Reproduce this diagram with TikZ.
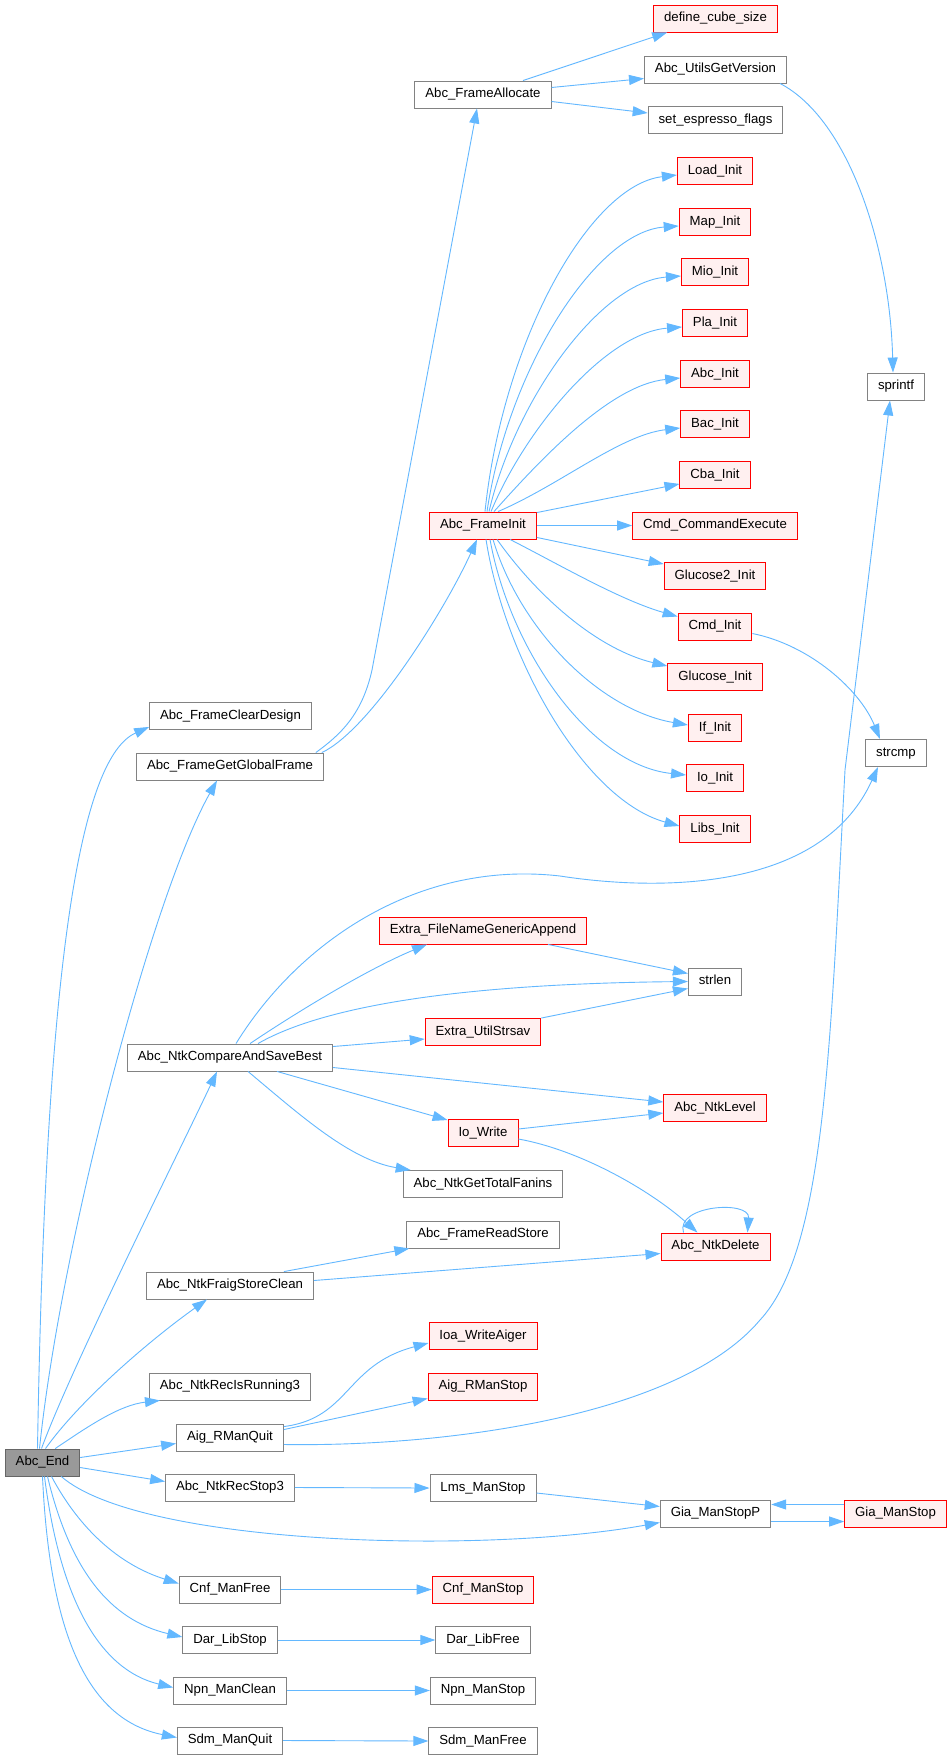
\documentclass[tikz,border=0pt]{standalone}
\usepackage{fontspec}
\setmainfont{Liberation Sans}
\usetikzlibrary{arrows.meta,calc}
\definecolor{edgeblue}{HTML}{63B8FF}
\definecolor{boxgray}{HTML}{828282}
\definecolor{rootline}{HTML}{666666}
\definecolor{rootfill}{HTML}{999999}
\definecolor{redfill}{HTML}{FFF0F0}

\begin{document}
\begin{tikzpicture}[x=1pt, y=-1pt,
    fn/.style={draw=boxgray, fill=white, line width=0.9pt, rectangle,
        minimum height=27pt, inner xsep=10.5pt, inner ysep=0pt,
        text height=9.6pt, text depth=2.8pt, font=\fontsize{13.2}{15}\selectfont},
    fnred/.style={fn, draw=red, fill=redfill},
    fnroot/.style={fn, draw=rootline, fill=rootfill},
    call/.style={draw=edgeblue, line width=0.9pt, -{Triangle[length=15pt,width=10pt]}}]
    \path[use as bounding box, fill=white] (0,0) rectangle (951,1760);

    % Caller
    \node[fnroot] (ae) at (42.5,1462.5) {Abc\_End};

    % Callees of Abc_End
    \node[fn] (clr) at (230.5,716) {Abc\_FrameClearDesign};
    \node[fn] (ggf) at (230,766.5) {Abc\_FrameGetGlobalFrame};
    \node[fn] (casb) at (230,1057.5) {Abc\_NtkCompareAndSaveBest};
    \node[fn] (fsc) at (230,1285.5) {Abc\_NtkFraigStoreClean};
    \node[fn] (rir) at (230,1386.5) {Abc\_NtkRecIsRunning3};
    \node[fn] (arq) at (230,1437.5) {Aig\_RManQuit};
    \node[fn] (rs3) at (230,1487.5) {Abc\_NtkRecStop3};
    \node[fn] (cmf) at (230,1589.5) {Cnf\_ManFree};
    \node[fn] (dls) at (230,1640) {Dar\_LibStop};
    \node[fn] (npc) at (230,1690.5) {Npn\_ManClean};
    \node[fn] (sdq) at (230,1740.5) {Sdm\_ManQuit};

    % Third column
    \node[fn] (fa) at (483,94.5) {Abc\_FrameAllocate};
    \node[fnred] (fi) at (483,525.5) {Abc\_FrameInit};
    \node[fnred] (fnga) at (483,930.5) {Extra\_FileNameGenericAppend};
    \node[fnred] (eus) at (483,1032) {Extra\_UtilStrsav};
    \node[fnred] (iow) at (483,1133) {Io\_Write};
    \node[fn] (gtf) at (483,1184) {Abc\_NtkGetTotalFanins};
    \node[fn] (frs) at (483,1234.5) {Abc\_FrameReadStore};
    \node[fnred] (iwa) at (483,1336) {Ioa\_WriteAiger};
    \node[fnred] (ars) at (483,1386.5) {Aig\_RManStop};
    \node[fn] (lms) at (483,1488) {Lms\_ManStop};
    \node[fnred] (cms) at (483,1589.5) {Cnf\_ManStop};
    \node[fn] (dlf) at (483,1640) {Dar\_LibFree};
    \node[fn] (nps) at (483,1690.5) {Npn\_ManStop};
    \node[fn] (sdf) at (483,1741) {Sdm\_ManFree};

    % Fourth column
    \node[fnred] (dcs) at (715.5,18.5) {define\_cube\_size};
    \node[fn] (ugv) at (715.5,69.5) {Abc\_UtilsGetVersion};
    \node[fn] (sef) at (715.5,120) {set\_espresso\_flags};
    \node[fnred] (load) at (715,171) {Load\_Init};
    \node[fnred] (map) at (715,222) {Map\_Init};
    \node[fnred] (mio) at (715,272) {Mio\_Init};
    \node[fnred] (pla) at (715,323) {Pla\_Init};
    \node[fnred] (abci) at (715,374) {Abc\_Init};
    \node[fnred] (baci) at (715,424) {Bac\_Init};
    \node[fnred] (cbai) at (715,475) {Cba\_Init};
    \node[fnred] (cce) at (715,525.5) {Cmd\_CommandExecute};
    \node[fnred] (glu2) at (715,576) {Glucose2\_Init};
    \node[fnred] (cmdi) at (715,626.5) {Cmd\_Init};
    \node[fnred] (glu) at (715,677) {Glucose\_Init};
    \node[fnred] (ifi) at (715,728) {If\_Init};
    \node[fnred] (ioi) at (715,778) {Io\_Init};
    \node[fnred] (libs) at (715,829) {Libs\_Init};
    \node[fn] (strlen) at (715,981.5) {strlen};
    \node[fnred] (ntl) at (715,1108) {Abc\_NtkLevel};
    \node[fnred] (ntd) at (715.5,1246.5) {Abc\_NtkDelete};
    \node[fn] (gsp) at (715.5,1513.5) {Gia\_ManStopP};

    % Last column
    \node[fn] (spf) at (896,386.5) {sprintf};
    \node[fn] (scmp) at (896,753) {strcmp};
    \node[fnred] (gms) at (895.5,1513.5) {Gia\_ManStop};

    % Abc_End calls
    \draw[call] ($(ae.north)+(-5,0)$) .. controls (45,1000) and (75,760) .. ($(clr.south west)+(0,-3)$);
    \draw[call] ($(ae.north)+(-3,0)$) .. controls (60,1250) and (150,900) .. ($(ggf.south)+(-13,0)$);
    \draw[call] ($(ae.north)+(-1,0)$) .. controls (70,1370) and (180,1150) .. ($(casb.south)+(-13,0)$);
    \draw[call] ($(ae.north)+(3,0)$) .. controls (80,1400) and (150,1340) .. ($(fsc.south)+(-23,0)$);
    \draw[call] ($(ae.north east)+(-25,0)$) .. controls (90,1425) and (120,1405) .. ($(rir.south west)+(11,0)$);
    \draw[call] ($(ae.east)+(0,-5)$) -- ($(arq.west)+(0,6)$);
    \draw[call] ($(ae.east)+(0,5)$) -- ($(rs3.west)+(0,-6)$);
    \draw[call] ($(ae.south east)+(-19,0)$) .. controls (140,1545) and (480,1555) .. ($(gsp.west)+(0,9)$);
    \draw[call] ($(ae.south)+(9,0)$) .. controls (80,1530) and (120,1565) .. ($(cmf.west)+(0,-6)$);
    \draw[call] ($(ae.south)+(5,0)$) .. controls (70,1570) and (110,1620) .. ($(dls.west)+(0,-3)$);
    \draw[call] ($(ae.south)+(2,0)$) .. controls (60,1600) and (100,1670) .. ($(npc.west)+(0,-3)$);
    \draw[call] (ae.south) .. controls (50,1640) and (90,1720) .. ($(sdq.west)+(0,-3)$);

    % Global frame
    \draw[call] ($(ggf.north east)+(-8,0)$) .. controls (340,735) and (362,715) .. (372,670) -- ($(fa.south)+(-6,0)$);
    \draw[call] ($(ggf.north east)+(-2,0)$) .. controls (370,730) and (445,610) .. ($(fi.south)+(-6,0)$);
    \draw[call] ($(fa.north)+(40,0)$) -- ($(dcs.south west)+(14,0)$);
    \draw[call] ($(fa.east)+(0,-7)$) -- ($(ugv.west)+(0,9)$);
    \draw[call] ($(fa.east)+(0,7)$) -- ($(sef.west)+(0,-7)$);
    \draw[call] ($(ugv.south east)+(-7,0)$) .. controls (850,120) and (890,250) .. ($(spf.north)+(-3,0)$);

    % Abc_FrameInit calls
    \draw[call] ($(fi.north)+(2,0)$) .. controls (503,340) and (590,185) .. ($(load.west)+(0,4)$);
    \draw[call] ($(fi.north)+(4,0)$) .. controls (508,370) and (595,232) .. ($(map.west)+(0,4)$);
    \draw[call] ($(fi.north)+(6,0)$) .. controls (515,400) and (600,282) .. ($(mio.west)+(0,4)$);
    \draw[call] ($(fi.north)+(8,0)$) .. controls (525,430) and (605,333) .. ($(pla.west)+(0,4)$);
    \draw[call] ($(fi.north)+(11,0)$) .. controls (540,460) and (610,385) .. ($(abci.west)+(0,4)$);
    \draw[call] ($(fi.north)+(15,0)$) .. controls (560,485) and (620,435) .. ($(baci.west)+(0,4)$);
    \draw[call] ($(fi.north east)+(0,1)$) -- ($(cbai.south west)+(0,-5)$);
    \draw[call] (fi.east) -- (cce.west);
    \draw[call] ($(fi.south east)+(0,-2)$) -- ($(glu2.north west)+(0,2)$);
    \draw[call] ($(fi.south)+(27,0)$) .. controls (560,565) and (620,600) .. ($(cmdi.north west)+(0,4)$);
    \draw[call] ($(fi.south)+(14,0)$) .. controls (540,600) and (600,650) .. ($(glu.north west)+(0,3)$);
    \draw[call] ($(fi.south)+(10,0)$) .. controls (520,630) and (600,710) .. ($(ifi.west)+(0,-3)$);
    \draw[call] ($(fi.south)+(7,0)$) .. controls (510,650) and (590,765) .. ($(ioi.west)+(0,-3)$);
    \draw[call] ($(fi.south)+(3,0)$) .. controls (505,660) and (585,800) .. ($(libs.west)+(0,-3)$);
    \draw[call] ($(cmdi.east)+(0,7)$) .. controls (810,645) and (860,690) .. ($(scmp.north)+(-16,0)$);

    % Abc_NtkCompareAndSaveBest calls
    \draw[call] ($(casb.north)+(6,0)$) .. controls (300,940) and (420,860) .. (560,876)
        .. controls (650,890) and (820,895) .. ($(scmp.south)+(-18,0)$);
    \draw[call] ($(casb.north)+(20,0)$) .. controls (300,1010) and (370,968) .. ($(fnga.south)+(-56,0)$);
    \draw[call] ($(casb.north)+(28,0)$) .. controls (320,1008) and (450,984) .. (strlen.west);
    \draw[call] ($(casb.east)+(0,-11)$) -- ($(eus.west)+(0,7)$);
    \draw[call] ($(casb.east)+(0,10)$) -- ($(ntl.west)+(0,-6)$);
    \draw[call] ($(casb.south)+(47,0)$) -- ($(iow.north west)+(0,1)$);
    \draw[call] ($(casb.south)+(18,0)$) .. controls (300,1115) and (350,1160) .. ($(gtf.north west)+(8,0)$);
    \draw[call] ($(fnga.south)+(65,0)$) -- ($(strlen.west)+(0,-8)$);
    \draw[call] (eus.north east) -- ($(strlen.west)+(0,7)$);
    \draw[call] ($(iow.east)+(0,-4)$) -- ($(ntl.west)+(0,5)$);
    \draw[call] ($(iow.east)+(0,6)$) .. controls (580,1150) and (650,1190) .. ($(ntd.north)+(-18,0)$);
    \draw[call] ($(ntd.north)+(-32,0)$) .. controls (675,1205) and (750,1200) .. ($(ntd.north)+(32,0)$);

    % Store and recorder calls
    \draw[call] ($(fsc.north east)+(-30,0)$) -- ($(frs.south west)+(3,0)$);
    \draw[call] ($(fsc.east)+(0,-5)$) -- ($(ntd.west)+(0,7)$);
    \draw[call] ($(arq.north east)+(0,3)$) .. controls (350,1418) and (345,1365) .. ($(iwa.west)+(0,7)$);
    \draw[call] ($(arq.north east)+(0,6)$) -- ($(ars.south west)+(0,-2)$);
    \draw[call] ($(arq.east)+(0,7)$) .. controls (450,1447) and (680,1415) .. (760,1320)
        .. controls (825,1250) and (830,1050) .. (845,770) -- ($(spf.south)+(-6,0)$);
    \draw[call] (rs3.east) -- (lms.west);
    \draw[call] ($(lms.east)+(0,5)$) -- ($(gsp.west)+(0,-7)$);
    \draw[call] ($(gsp.east)+(0,8)$) -- ($(gms.west)+(0,8)$);
    \draw[call] ($(gms.west)+(0,-9)$) -- ($(gsp.east)+(0,-9)$);

    % Managers
    \draw[call] (cmf.east) -- (cms.west);
    \draw[call] (dls.east) -- (dlf.west);
    \draw[call] (npc.east) -- (nps.west);
    \draw[call] (sdq.east) -- (sdf.west);
\end{tikzpicture}
\end{document}
